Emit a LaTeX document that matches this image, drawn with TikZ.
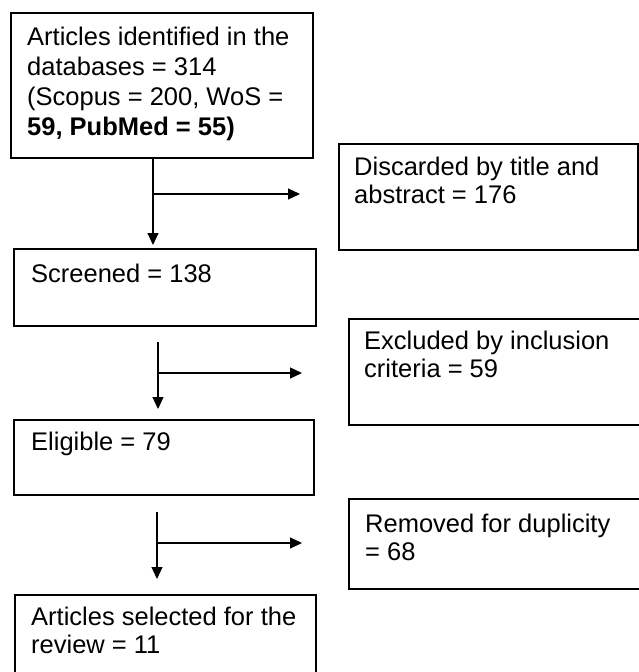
\documentclass[tikz,border=0pt]{standalone}
\usepackage{fontspec}
\setmainfont{Liberation Sans}
\usetikzlibrary{arrows.meta}
\begin{document}
\begin{tikzpicture}[x=1pt,y=-1pt,
  boxst/.style={draw, line width=1.8pt, inner sep=0pt, anchor=north west},
  txt/.style={inner sep=0pt, anchor=base west},
  arr/.style={line width=1.2pt, -{Triangle[length=12pt,width=11pt]}},
  ln/.style={line width=1.2pt}]
\useasboundingbox (0,0) rectangle (638,672);
\fill[white] (0,0) rectangle (638,672);
\newcommand{\bodyfont}{\fontsize{25.5}{28.5}\selectfont}
% boxes
\node[boxst, minimum width=302pt, minimum height=145pt] (b1) at (10,12) {};
\node[boxst, minimum width=299pt, minimum height=106pt] (b2) at (338,143) {};
\node[boxst, minimum width=302pt, minimum height=77pt] (b3) at (13,248) {};
\node[boxst, minimum width=300pt, minimum height=106pt] (b4) at (348,318) {};
\node[boxst, minimum width=300pt, minimum height=75pt] (b5) at (13,419) {};
\node[boxst, minimum width=300pt, minimum height=90pt] (b6) at (348,498) {};
\node[boxst, minimum width=301pt, minimum height=95pt] (b7) at (14,594) {};
% texts
\node[txt] (t1) at (27,45) {\parbox[t]{290pt}{\fontsize{25.5}{30}\selectfont Articles identified in the\\databases = 314\\(Scopus = 200, WoS =\\\textbf{59, PubMed = 55)}}};
\node[txt] (t2) at (354,175) {\parbox[t]{280pt}{\bodyfont Discarded by title and\\abstract = 176}};
\node[txt] (t3) at (31,282) {\parbox[t]{280pt}{\bodyfont Screened = 138}};
\node[txt] (t4) at (364,349) {\parbox[t]{280pt}{\bodyfont Excluded by inclusion\\criteria = 59}};
\node[txt] (t5) at (31,450) {\parbox[t]{280pt}{\bodyfont Eligible = 79}};
\node[txt] (t6) at (365,532) {\parbox[t]{280pt}{\bodyfont Removed for duplicity\\= 68}};
\node[txt] (t7) at (31,625) {\parbox[t]{280pt}{\bodyfont Articles selected for the\\review = 11}};
% connectors
\coordinate (j1) at (153,194);
\coordinate (e1) at (300,194);
\draw[arr] ([xshift=143pt]b1.south west) -- ([xshift=140pt,yshift=3pt]b3.north west);
\draw[arr] (j1) -- (e1);
\coordinate (s2) at (158,342);
\coordinate (j2) at (158,373);
\coordinate (e2) at (302,373);
\draw[arr] (s2) -- ([xshift=145pt,yshift=10pt]b5.north west);
\draw[arr] (j2) -- (e2);
\coordinate (s3) at (157,512);
\coordinate (j3) at (157,543);
\coordinate (e3) at (302,543);
\draw[arr] (s3) -- ([xshift=143pt,yshift=15pt]b7.north west);
\draw[arr] (j3) -- (e3);
\end{tikzpicture}
\end{document}
